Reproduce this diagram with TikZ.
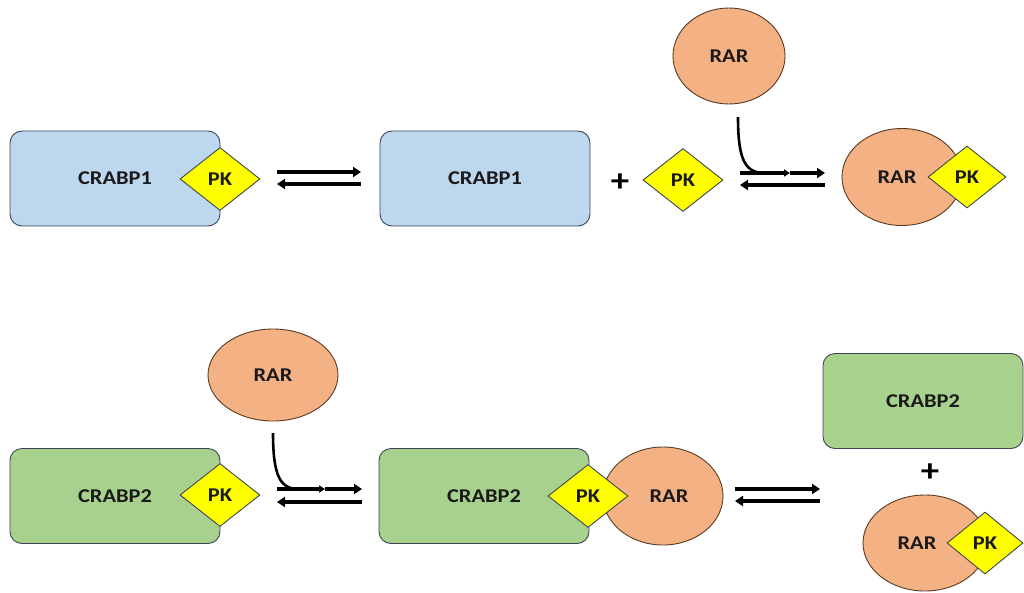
\documentclass[tikz,border=0pt]{standalone}
\usepackage{fontspec}
\setmainfont{Carlito}[FakeStretch=1.15]
\usepackage{xcolor}
\usetikzlibrary{shapes.geometric,arrows.meta}
\definecolor{crabpblue}{HTML}{BDD7EE}
\definecolor{crabpgreen}{HTML}{A9D18E}
\definecolor{rarorange}{HTML}{F4B183}
\definecolor{pkyellow}{HTML}{FFFF00}
\definecolor{edgegray}{HTML}{3C4654}
\definecolor{edgebrown}{HTML}{5A3A22}
\definecolor{txt}{HTML}{1A1A1A}

\tikzset{
  lbl/.style={text=txt,font=\bfseries\fontsize{19.5}{21}\selectfont},
  protbox/.style={lbl,draw=edgegray,line width=0.9pt,rounded corners=12pt,minimum width=210pt,minimum height=95pt,inner sep=0pt},
  rar/.style={lbl,ellipse,draw=edgebrown,line width=0.9pt,fill=rarorange,inner sep=0pt},
  pk/.style={lbl,diamond,draw=edgegray,line width=0.9pt,fill=pkyellow,minimum width=80pt,minimum height=63pt,inner sep=0pt},
  plus/.style={font=\bfseries\fontsize{32}{34}\selectfont},
  eq/.style={line width=3.4pt,-{Triangle[length=8pt,width=10pt]}},
  bind/.style={line width=2.6pt},
}

\begin{document}
\begin{tikzpicture}[x=1pt,y=-1pt]
        \useasboundingbox (0,0) rectangle (1024,592);
        % row 1: CRABP1 with PK
        \node[protbox,fill=crabpblue] (c1a) at (115,178.5) {CRABP1};
        \node[pk] (pk1a) at (220,179) {PK};
        \coordinate (e1ua) at (277,172); \coordinate (e1ub) at (361,172);
        \coordinate (e1la) at (361,184); \coordinate (e1lb) at (277,184);
        \draw[eq] (e1ua) -- (e1ub);
        \draw[eq] (e1la) -- (e1lb);
        % free CRABP1 + PK
        \node[protbox,fill=crabpblue] (c1b) at (485,178.5) {CRABP1};
        \node[plus] (plus1) at (620,183) {+};
        \node[pk] (pk1b) at (683,180) {PK};
        % RAR comes in
        \node[rar,minimum width=112pt,minimum height=96pt] (rar1) at (729,56) {RAR};
        \coordinate (r1) at (738,117); \coordinate (j1) at (765,173);
        \coordinate (e2ua) at (740,173); \coordinate (e2um) at (790,173); \coordinate (e2ub) at (825,173);
        \coordinate (e2la) at (825,185); \coordinate (e2lb) at (740,185);
        \draw[bind] (r1) .. controls (738,162) and (746,173) .. (j1);
        \draw[eq,-{Triangle[length=6pt,width=7pt]}] (e2ua) -- (e2um);
        \draw[eq] (e2um) -- (e2ub);
        \draw[eq] (e2la) -- (e2lb);
        % RAR-PK
        \node[rar,minimum width=120pt,minimum height=97pt] (rar1c) at (902,177) {RAR\hspace*{10pt}};
        \node[pk,minimum width=78pt,minimum height=62pt] (pk1c) at (967,177) {PK};

        % row 2: CRABP2 with PK
        \node[protbox,fill=crabpgreen] (c2a) at (115,496) {CRABP2};
        \node[pk] (pk2a) at (220,495) {PK};
        % RAR comes in
        \node[rar,minimum width=130pt,minimum height=92pt] (rar2) at (273,375) {RAR};
        \coordinate (r2) at (273,433); \coordinate (j2) at (299,489);
        \coordinate (e3ua) at (277,489); \coordinate (e3um) at (325,489); \coordinate (e3ub) at (362,489);
        \coordinate (e3la) at (362,502); \coordinate (e3lb) at (277,502);
        \draw[bind] (r2) .. controls (273,478) and (281,489) .. (j2);
        \draw[eq,-{Triangle[length=6pt,width=7pt]}] (e3ua) -- (e3um);
        \draw[eq] (e3um) -- (e3ub);
        \draw[eq] (e3la) -- (e3lb);
        % CRABP2-PK-RAR
        \node[protbox,fill=crabpgreen] (c2b) at (484,496) {CRABP2};
        \node[rar,minimum width=120pt,minimum height=98pt] (rar2b) at (663,496) {\hspace*{12pt}RAR};
        \node[pk] (pk2b) at (588,496) {PK};
        \coordinate (e4ua) at (735,489); \coordinate (e4ub) at (820,489);
        \coordinate (e4la) at (820,501); \coordinate (e4lb) at (735,501);
        \draw[eq] (e4ua) -- (e4ub);
        \draw[eq] (e4la) -- (e4lb);
        % free CRABP2 + RAR-PK
        \node[protbox,fill=crabpgreen,minimum width=200pt] (c2c) at (923,401) {CRABP2};
        \node[plus] (plus2) at (930,473) {+};
        \node[rar,minimum width=124pt,minimum height=96pt] (rar2c) at (925,543) {RAR\hspace*{16pt}};
        \node[pk,minimum width=76pt,minimum height=62pt] (pk2c) at (985,543) {PK};
    \end{tikzpicture}
\end{document}
